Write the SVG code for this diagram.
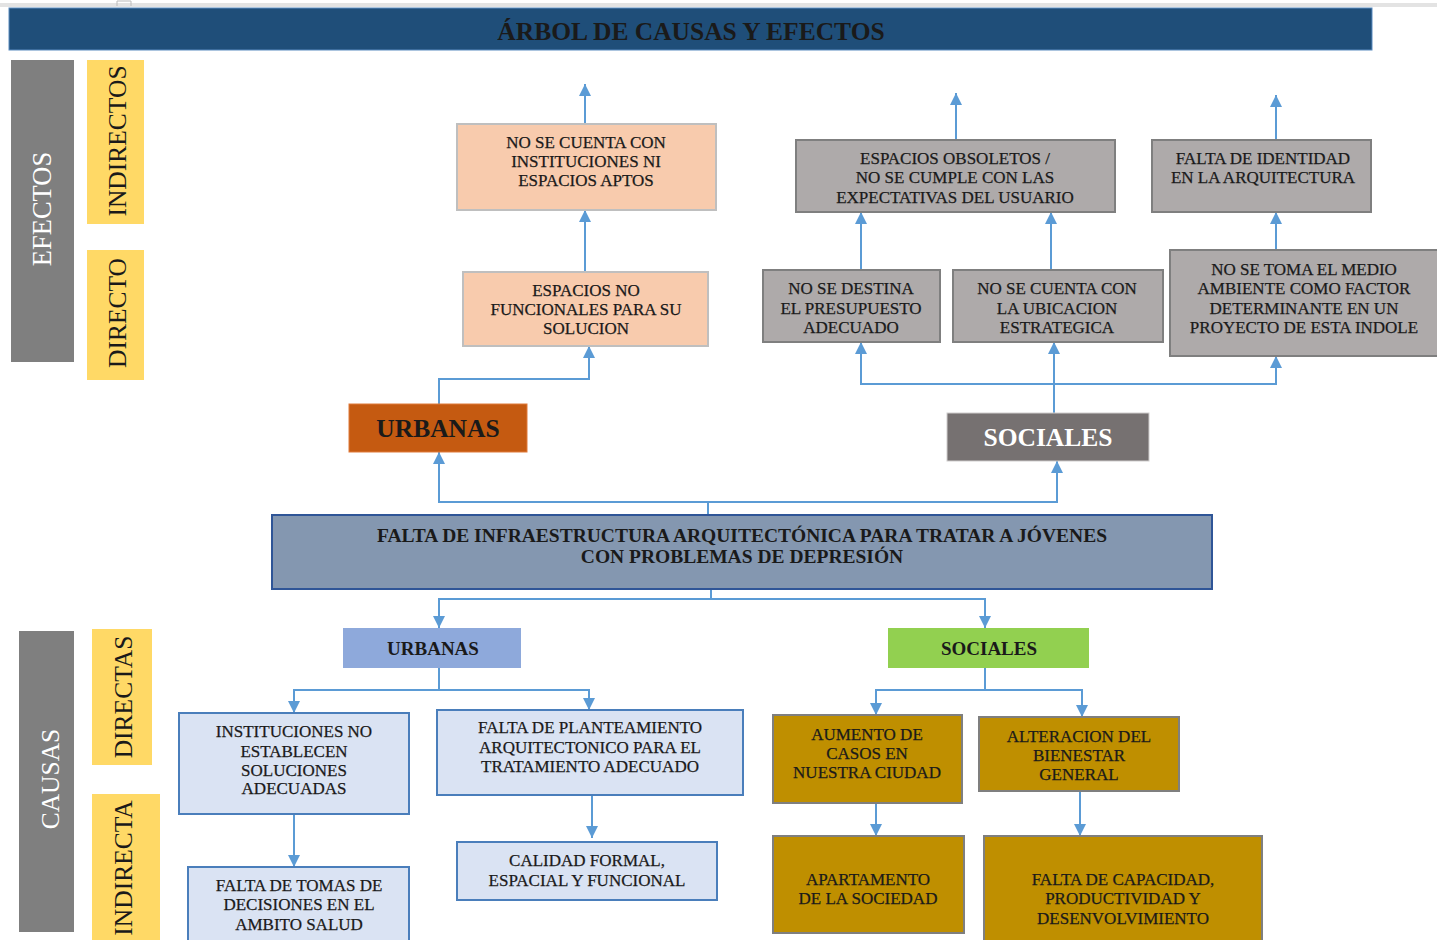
<svg xmlns="http://www.w3.org/2000/svg" width="1437" height="940" viewBox="0 0 1437 940">
<defs>
<marker id="ah" markerWidth="12" markerHeight="12" refX="10" refY="5" orient="auto" markerUnits="userSpaceOnUse" viewBox="0 0 10 10">
<path d="M0,0 L10,5 L0,10 Z" fill="#5B9BD5"/>
</marker>
<style>
.t{font-family:"Liberation Serif","Times New Roman",serif;fill:#1a1a1a;text-anchor:middle}
.s{font-size:17px;stroke:#1a1a1a;stroke-width:0.25}
.b{font-weight:bold}
.w{fill:#ffffff}
.rot{font-size:25.5px}
.peach{fill:#F8CBAD;stroke:#BFBFBF;stroke-width:2}
.gray{fill:#AEAAAA;stroke:#7F7F7F;stroke-width:2}
.lblue{fill:#DAE3F3;stroke:#4A7EBB;stroke-width:2}
.gold{fill:#BF8F00;stroke:#7F7F7F;stroke-width:2}
.yel{fill:#FFD966}
.dgray{fill:#7F7F7F}
.conn path{fill:none;stroke:#5B9BD5;stroke-width:2;marker-end:url(#ah)}
</style>
</defs>
<rect x="0" y="0" width="1437" height="940" fill="#ffffff"/>
<rect x="0" y="3" width="1437" height="4" fill="#E3E3E3"/>
<path d="M117,6 V1 H131 V6" fill="none" stroke="#BBBBBB" stroke-width="1"/>

<g id="title">
<rect x="9" y="8" width="1363" height="42" fill="#1F4E79" stroke="#5B8BC0" stroke-width="1"/>
<text class="t b" x="691" y="40" font-size="25.5">ÁRBOL DE CAUSAS Y EFECTOS</text>
</g>

<g id="lbl-efectos"><rect class="dgray" x="11" y="60" width="63" height="302"/>
<text class="t w" font-size="26.5" transform="translate(51,209) rotate(-90)">EFECTOS</text></g>
<g id="lbl-indirectos"><rect class="yel" x="87" y="60" width="57" height="164"/>
<text class="t rot" transform="translate(126,141) rotate(-90)">INDIRECTOS</text></g>
<g id="lbl-directo"><rect class="yel" x="87" y="250" width="57" height="130"/>
<text class="t rot" transform="translate(126,313) rotate(-90)">DIRECTO</text></g>
<g id="lbl-causas"><rect class="dgray" x="19" y="631" width="55" height="301"/>
<text class="t w rot" transform="translate(59,779) rotate(-90)">CAUSAS</text></g>
<g id="lbl-directas"><rect class="yel" x="92" y="629" width="60" height="136"/>
<text class="t rot" transform="translate(132,697) rotate(-90)">DIRECTAS</text></g>
<g id="lbl-indirecta"><rect class="yel" x="92" y="794" width="68" height="146"/>
<text class="t rot" transform="translate(132,868) rotate(-90)">INDIRECTA</text></g>

<g class="conn" id="connectors">
<path d="M585,124 V84"/>
<path d="M585,272 V210"/>
<path d="M439,404 V379 H589 V346"/>
<path d="M956,140 V93"/>
<path d="M1276,140 V95"/>
<path d="M861,270 V212"/>
<path d="M1051,270 V212"/>
<path d="M1276,250 V212"/>
<path d="M1054,413 V342"/>
<path d="M1054,384 H861 V342"/>
<path d="M1054,384 H1276 V356"/>
<path d="M708,515 V502 H439 V452"/>
<path d="M708,502 H1057 V461"/>
<path d="M711,589 V599 H439 V628"/>
<path d="M711,599 H985 V628"/>
<path d="M439,668 V690 H294 V713"/>
<path d="M439,690 H589 V710"/>
<path d="M294,814 V867"/>
<path d="M592,795 V838"/>
<path d="M985,668 V690 H876 V715"/>
<path d="M985,690 H1082 V717"/>
<path d="M876,803 V836"/>
<path d="M1080,791 V836"/>
</g>

<g id="e-instituciones"><rect class="peach" x="457" y="124" width="259" height="86"/>
<text class="t s" x="586"><tspan x="586" y="148">NO SE CUENTA CON</tspan><tspan x="586" y="167">INSTITUCIONES NI</tspan><tspan x="586" y="186">ESPACIOS APTOS</tspan></text></g>
<g id="e-espacios-no-funcionales"><rect class="peach" x="463" y="272" width="245" height="74"/>
<text class="t s" x="586"><tspan x="586" y="296">ESPACIOS NO</tspan><tspan x="586" y="315">FUNCIONALES PARA SU</tspan><tspan x="586" y="334">SOLUCION</tspan></text></g>
<g id="e-urbanas"><rect x="349" y="404" width="178" height="48" fill="#C55A11" stroke="#E07A3A" stroke-width="1"/>
<text class="t b" x="438" y="437" font-size="25.5">URBANAS</text></g>

<g id="e-obsoletos"><rect class="gray" x="796" y="140" width="319" height="72"/>
<text class="t s" x="955"><tspan x="955" y="164">ESPACIOS OBSOLETOS /</tspan><tspan x="955" y="183">NO SE CUMPLE CON LAS</tspan><tspan x="955" y="203">EXPECTATIVAS DEL USUARIO</tspan></text></g>
<g id="e-identidad"><rect class="gray" x="1152" y="140" width="219" height="72"/>
<text class="t s" x="1263"><tspan x="1263" y="164">FALTA DE IDENTIDAD</tspan><tspan x="1263" y="183">EN LA ARQUITECTURA</tspan></text></g>
<g id="e-presupuesto"><rect class="gray" x="763" y="270" width="177" height="72"/>
<text class="t s" x="851"><tspan x="851" y="294">NO SE DESTINA</tspan><tspan x="851" y="314">EL PRESUPUESTO</tspan><tspan x="851" y="333">ADECUADO</tspan></text></g>
<g id="e-ubicacion"><rect class="gray" x="953" y="270" width="210" height="72"/>
<text class="t s" x="1057"><tspan x="1057" y="294">NO SE CUENTA CON</tspan><tspan x="1057" y="314">LA UBICACION</tspan><tspan x="1057" y="333">ESTRATEGICA</tspan></text></g>
<g id="e-medio-ambiente"><rect class="gray" x="1170" y="250" width="268" height="106"/>
<text class="t s" x="1304"><tspan x="1304" y="275">NO SE TOMA EL MEDIO</tspan><tspan x="1304" y="294">AMBIENTE COMO FACTOR</tspan><tspan x="1304" y="314">DETERMINANTE EN UN</tspan><tspan x="1304" y="333">PROYECTO DE ESTA INDOLE</tspan></text></g>
<g id="e-sociales"><rect x="947" y="413" width="202" height="48" fill="#767171" stroke="#D0CECE" stroke-width="1"/>
<text class="t b w" x="1048" y="446" font-size="25.5">SOCIALES</text></g>

<g id="problema"><rect x="272" y="515" width="940" height="74" fill="#8497B0" stroke="#2F5597" stroke-width="2"/>
<text class="t b" x="742" font-size="19.5"><tspan x="742" y="542">FALTA DE INFRAESTRUCTURA ARQUITECTÓNICA PARA TRATAR A JÓVENES</tspan><tspan x="742" y="563">CON PROBLEMAS DE DEPRESIÓN</tspan></text></g>

<g id="c-urbanas"><rect x="343" y="628" width="178" height="40" fill="#8EA9DB"/>
<text class="t b" x="433" y="655" font-size="19">URBANAS</text></g>
<g id="c-sociales"><rect x="888" y="628" width="201" height="40" fill="#92D050"/>
<text class="t b" x="989" y="655" font-size="19">SOCIALES</text></g>

<g id="c-instituciones"><rect class="lblue" x="179" y="713" width="230" height="101"/>
<text class="t s" x="294"><tspan x="294" y="737">INSTITUCIONES NO</tspan><tspan x="294" y="757">ESTABLECEN</tspan><tspan x="294" y="776">SOLUCIONES</tspan><tspan x="294" y="794">ADECUADAS</tspan></text></g>
<g id="c-planteamiento"><rect class="lblue" x="437" y="710" width="306" height="85"/>
<text class="t s" x="590"><tspan x="590" y="733">FALTA DE PLANTEAMIENTO</tspan><tspan x="590" y="753">ARQUITECTONICO PARA EL</tspan><tspan x="590" y="772">TRATAMIENTO ADECUADO</tspan></text></g>
<g id="c-tomas-decisiones"><rect class="lblue" x="188" y="867" width="221" height="74"/>
<text class="t s" x="299"><tspan x="299" y="891">FALTA DE TOMAS DE</tspan><tspan x="299" y="910">DECISIONES EN EL</tspan><tspan x="299" y="930">AMBITO SALUD</tspan></text></g>
<g id="c-calidad"><rect class="lblue" x="457" y="842" width="260" height="58"/>
<text class="t s" x="587"><tspan x="587" y="866">CALIDAD FORMAL,</tspan><tspan x="587" y="886">ESPACIAL Y FUNCIONAL</tspan></text></g>

<g id="c-aumento"><rect class="gold" x="773" y="715" width="189" height="88"/>
<text class="t s" x="867"><tspan x="867" y="740">AUMENTO DE</tspan><tspan x="867" y="759">CASOS EN</tspan><tspan x="867" y="778">NUESTRA CIUDAD</tspan></text></g>
<g id="c-alteracion"><rect class="gold" x="979" y="717" width="200" height="74"/>
<text class="t s" x="1079"><tspan x="1079" y="742">ALTERACION DEL</tspan><tspan x="1079" y="761">BIENESTAR</tspan><tspan x="1079" y="780">GENERAL</tspan></text></g>
<g id="c-apartamento"><rect class="gold" x="773" y="836" width="191" height="97"/>
<text class="t s" x="868"><tspan x="868" y="885">APARTAMENTO</tspan><tspan x="868" y="904">DE LA SOCIEDAD</tspan></text></g>
<g id="c-capacidad"><rect class="gold" x="984" y="836" width="278" height="105"/>
<text class="t s" x="1123"><tspan x="1123" y="885">FALTA DE CAPACIDAD,</tspan><tspan x="1123" y="904">PRODUCTIVIDAD Y</tspan><tspan x="1123" y="924">DESENVOLVIMIENTO</tspan></text></g>
</svg>
